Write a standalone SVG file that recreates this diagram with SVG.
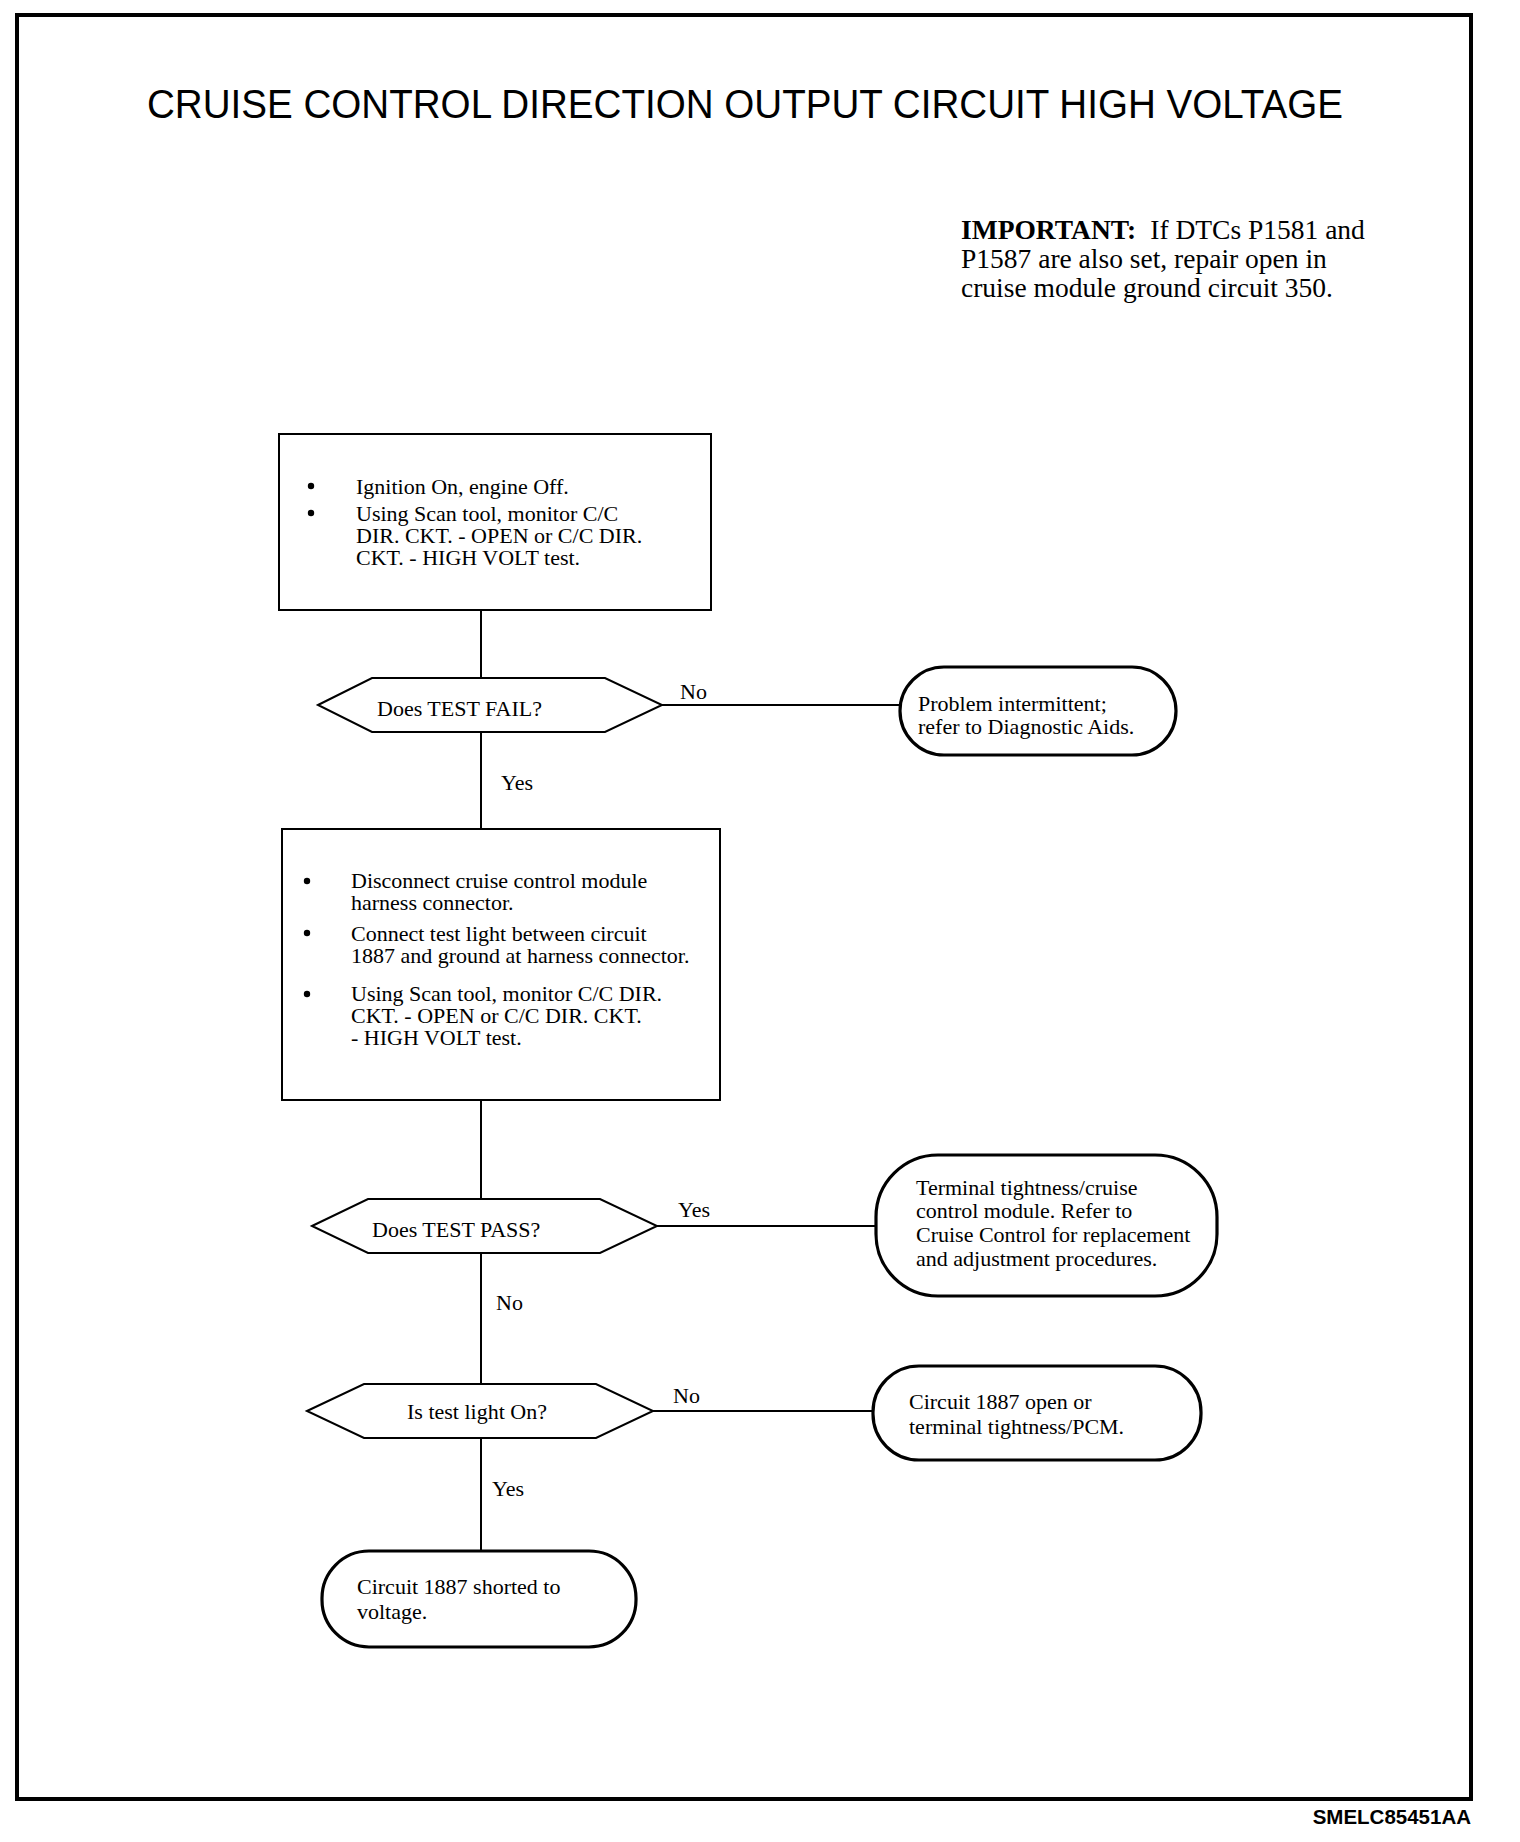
<svg xmlns="http://www.w3.org/2000/svg" width="1520" height="1842" viewBox="0 0 1520 1842">
<style>
.t{font-family:"Liberation Serif","Times New Roman",serif;font-size:22px;fill:#000}
.imp{font-family:"Liberation Serif","Times New Roman",serif;font-size:27.5px;fill:#000}
.box{fill:#fff;stroke:#000;stroke-width:2}
.dia{fill:#fff;stroke:#000;stroke-width:2}
.term{fill:#fff;stroke:#000;stroke-width:3.2}
.ln{stroke:#000;stroke-width:2;fill:none}
</style>
<rect x="0" y="0" width="1520" height="1842" fill="#fff"/>
<rect x="17" y="15" width="1454" height="1784" fill="none" stroke="#000" stroke-width="4"/>
<text x="147" y="118" font-family="'Liberation Sans',Arial,sans-serif" font-size="40" textLength="1196" lengthAdjust="spacingAndGlyphs">CRUISE CONTROL DIRECTION OUTPUT CIRCUIT HIGH VOLTAGE</text>
<g id="important">
<text class="imp" x="961" y="239"><tspan font-weight="bold">IMPORTANT:</tspan><tspan dx="14">If DTCs P1581 and</tspan></text>
<text class="imp" x="961" y="268">P1587 are also set, repair open in</text>
<text class="imp" x="961" y="297">cruise module ground circuit 350.</text>
</g>
<g id="connectors">
<line class="ln" x1="481" y1="610" x2="481" y2="678"/>
<line class="ln" x1="481" y1="732" x2="481" y2="829"/>
<line class="ln" x1="481" y1="1100" x2="481" y2="1199"/>
<line class="ln" x1="481" y1="1253" x2="481" y2="1384"/>
<line class="ln" x1="481" y1="1438" x2="481" y2="1550"/>
<line class="ln" x1="662" y1="705" x2="900" y2="705"/>
<line class="ln" x1="657" y1="1226" x2="877" y2="1226"/>
<line class="ln" x1="653" y1="1411" x2="873" y2="1411"/>
<text class="t" x="680" y="699">No</text>
<text class="t" x="501" y="790">Yes</text>
<text class="t" x="678" y="1217">Yes</text>
<text class="t" x="496" y="1310">No</text>
<text class="t" x="673" y="1403">No</text>
<text class="t" x="492" y="1496">Yes</text>
</g>
<g id="box1">
<rect class="box" x="279" y="434" width="432" height="176"/>
<circle cx="311" cy="486" r="3.2"/>
<circle cx="311" cy="513" r="3.2"/>
<text class="t" x="356" y="494">Ignition On, engine Off.</text>
<text class="t" x="356" y="521">Using Scan tool, monitor C/C</text>
<text class="t" x="356" y="543">DIR. CKT. - OPEN or C/C DIR.</text>
<text class="t" x="356" y="565">CKT. - HIGH VOLT test.</text>
</g>
<g id="dec1">
<polygon class="dia" points="318,705 372,678 605,678 662,705 605,732 372,732"/>
<text class="t" x="377" y="716">Does TEST FAIL?</text>
</g>
<g id="end1">
<rect class="term" x="900" y="667" width="276" height="88" rx="44" ry="44"/>
<text class="t" x="918" y="711">Problem intermittent;</text>
<text class="t" x="918" y="734">refer to Diagnostic Aids.</text>
</g>
<g id="box2">
<rect class="box" x="282" y="829" width="438" height="271"/>
<circle cx="307" cy="881" r="3.2"/>
<circle cx="307" cy="933" r="3.2"/>
<circle cx="307" cy="994" r="3.2"/>
<text class="t" x="351" y="888">Disconnect cruise control module</text>
<text class="t" x="351" y="910">harness connector.</text>
<text class="t" x="351" y="941">Connect test light between circuit</text>
<text class="t" x="351" y="963">1887 and ground at harness connector.</text>
<text class="t" x="351" y="1001">Using Scan tool, monitor C/C DIR.</text>
<text class="t" x="351" y="1023">CKT. - OPEN or C/C DIR. CKT.</text>
<text class="t" x="351" y="1045">- HIGH VOLT test.</text>
</g>
<g id="dec2">
<polygon class="dia" points="312,1226 368,1199 600,1199 657,1226 600,1253 368,1253"/>
<text class="t" x="372" y="1237">Does TEST PASS?</text>
</g>
<g id="end2">
<rect class="term" x="876" y="1155" width="341" height="141" rx="62" ry="62"/>
<text class="t" x="916" y="1195">Terminal tightness/cruise</text>
<text class="t" x="916" y="1218">control module. Refer to</text>
<text class="t" x="916" y="1242">Cruise Control for replacement</text>
<text class="t" x="916" y="1266">and adjustment procedures.</text>
</g>
<g id="dec3">
<polygon class="dia" points="307,1411 364,1384 596,1384 653,1411 596,1438 364,1438"/>
<text class="t" x="407" y="1419">Is test light On?</text>
</g>
<g id="end3">
<rect class="term" x="873" y="1366" width="328" height="94" rx="46" ry="46"/>
<text class="t" x="909" y="1409">Circuit 1887 open or</text>
<text class="t" x="909" y="1434">terminal tightness/PCM.</text>
</g>
<g id="end4">
<rect class="term" x="322" y="1551" width="314" height="96" rx="47" ry="47"/>
<text class="t" x="357" y="1594">Circuit 1887 shorted to</text>
<text class="t" x="357" y="1619">voltage.</text>
</g>
<text x="1471" y="1824" text-anchor="end" font-family="'Liberation Sans',Arial,sans-serif" font-size="20.5" font-weight="bold">SMELC85451AA</text>
</svg>
